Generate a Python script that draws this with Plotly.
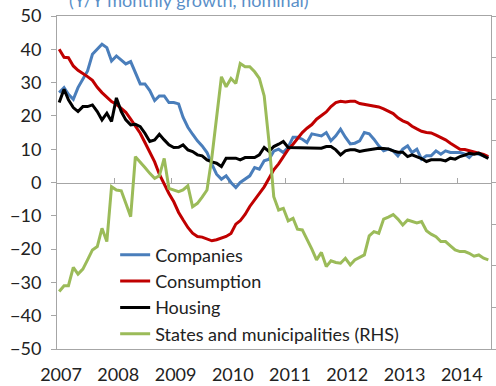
import pandas as pd
import plotly.graph_objects as go

# Monthly observations, Jan 2007 - Jul 2014 (plotted at mid-month)
months = pd.date_range("2007-01-01", "2014-07-01", freq="MS") + pd.Timedelta(days=14)

companies = [
    27, 28.5, 26.5, 25, 28.5, 31, 33.5, 38.5, 40, 41.5,
    40.5, 36.5, 38, 36.8, 35.6, 36.3, 33, 29.6, 29.6, 27.6,
    24.6, 26, 26, 24, 24, 23.6, 19.6, 16.6, 14.5, 12.5,
    11, 9, 5.5, 2.5, 1, 2, 0, -1.5, 0, 1,
    2, 4.5, 4, 6.5, 7, 9.4, 10, 9, 10.6, 13.6,
    13.6, 13, 12, 14.6, 14.3, 14, 15, 12.5, 14, 16,
    13.6, 11.6, 11.8, 12.5, 15, 14.6, 13, 11, 9.5, 10,
    9.5, 8, 10, 11, 9, 10, 7, 8, 8, 9.5,
    8.5, 9.5, 9, 9, 9, 8.5, 7.5, 9, 8.5, 8,
    7.5,
]

consumption = [
    40, 37.6, 37.5, 35, 33.7, 32.8, 31.8, 30.7, 28.6, 27,
    25.6, 24.3, 23.5, 22.3, 21.1, 19, 17, 14.8, 12, 9.1,
    6.2, 2.5, -0.5, -3.3, -5.8, -9, -11.2, -13.5, -15.2, -16.2,
    -16.4, -17, -17.5, -17.2, -16.7, -16.2, -15.3, -12.5, -11.5, -9.6,
    -7.2, -5.2, -3.5, -1.3, 1.3, 3.8, 5.6, 7.7, 9.9, 11.5,
    13.3, 15, 16.3, 17.4, 19, 20.2, 21.2, 22.8, 24, 24.4,
    24.2, 24.4, 24.4, 23.7, 23.5, 23.2, 23, 22.7, 22.1, 21.4,
    20.7, 19.4, 18.5, 17.9, 16.9, 16.1, 15.4, 15, 14.9, 14.2,
    13.5, 12.8, 11.8, 10.8, 10, 9.9, 9.5, 9, 8.8, 8.4,
    7.8,
]

housing = [
    24, 28, 24.8, 22.5, 21.3, 22.8, 22.8, 23.3, 21.3, 18.8,
    20.8, 18.3, 25.4, 21.3, 18.8, 17.3, 17.5, 16.8, 14.8, 12.3,
    12.8, 14.5, 12.8, 11.3, 10.5, 10.6, 11.3, 9.8, 9.3, 8.3,
    8, 6.8, 6.2, 5.8, 4.8, 7.3, 7.3, 7.3, 6.8, 7.5,
    7.5, 7.5, 8.3, 10.5, 9.3, 10.8, 11.5, 12.3, 10.5, 10.5,
    10.5, 10.5, 10.5, 10.5, 10.5, 10.3, 10.8, 10.8, 9.8, 8.3,
    9.5, 9.8, 9.8, 9.3, 9.6, 9.8, 10.1, 10.3, 10.2, 10.1,
    9.5, 9.1, 9.1, 7.8, 8.3, 7.8, 7.2, 6.3, 6.8, 6.8,
    6.8, 6.5, 7.3, 7, 7.8, 8.2, 8.8, 8.5, 8.8, 8,
    7.2,
]

# States and municipalities, right-hand scale
states = [
    -26.2, -24.8, -24.8, -20.4, -22.0, -20.8, -18.6, -16.2, -15.4, -11.0,
    -14.2, -1.0, -1.8, -2.0, -5.0, -8.2, 6.2, 5.0, 3.6, 2.2,
    1.0, 1.6, 5.8, -1.4, -1.8, -2.2, -1.8, -0.8, -5.8, -5.0,
    -3.5, -1.8, 6.0, 16.0, 25.4, 23.0, 25.0, 23.8, 28.6, 27.8,
    27.8, 26.6, 25.0, 20.8, 9.6, -3.4, -6.6, -6.2, -9.2, -8.6,
    -11.2, -11.4, -13.6, -16.0, -18.6, -16.8, -20.2, -18.8, -19.2, -19.4,
    -18.2, -19.8, -18.6, -18.0, -17.4, -12.8, -11.8, -12.2, -8.8, -8.3,
    -7.7, -8.8, -10.2, -9.0, -9.4, -9.7, -9.4, -11.6, -12.4, -13.0,
    -14.2, -14.2, -15.2, -16.2, -16.6, -16.6, -17.0, -17.7, -17.4, -18.2,
    -18.6,
]

year_ticks = pd.date_range("2007-01-01", "2014-01-01", freq="YS")
year_labels = [str(d.year) for d in year_ticks]
x_range = ["2007-01-01", "2014-08-01"]

FONT = "Lato"
GREY = "#a6a6a6"
TEXT = "#222222"

fig = go.Figure()

series = [
    ("Companies", companies, "#4a7ebb", "y"),
    ("Consumption", consumption, "#c00000", "y"),
    ("Housing", housing, "#000000", "y"),
    ("States and municipalities (RHS)", states, "#9bbb59", "y2"),
]
for name, values, color, axis in series:
    fig.add_trace(go.Scatter(
        x=months, y=values, name=name, mode="lines", yaxis=axis,
        line=dict(color=color, width=3),
    ))

# invisible helper so the zero-crossing date axis gets drawn
fig.add_trace(go.Scatter(
    x=[months[0], months[-1]], y=[0, 0], xaxis="x2", yaxis="y",
    mode="lines", line=dict(color="rgba(0,0,0,0)", width=0),
    showlegend=False, hoverinfo="skip",
))

fig.update_layout(
    width=496, height=386,
    margin=dict(l=57, r=5, t=16, b=37, autoexpand=False),
    paper_bgcolor="white", plot_bgcolor="white",
    font=dict(family=FONT, size=18, color=TEXT),
    showlegend=True,
    legend=dict(
        x=0.134, y=0.338, xanchor="left", yanchor="top",
        bgcolor="rgba(0,0,0,0)", borderwidth=0,
        font=dict(family=FONT, size=18, color=TEXT),
        tracegroupgap=0,
    ),
    xaxis=dict(
        type="date", range=x_range, automargin=False,
        tickvals=year_ticks, ticktext=year_labels,
        showline=True, linecolor=GREY, linewidth=1, mirror=True,
        ticks="", showgrid=False, zeroline=False,
        tickfont=dict(family=FONT, size=18, color=TEXT),
        ticklabelstandoff=9, ticklabelshift=4,
    ),
    xaxis2=dict(
        type="date", range=x_range, overlaying="x", anchor="free",
        position=0.5, side="bottom", automargin=False,
        tickvals=year_ticks, showticklabels=False,
        ticks="inside", ticklen=5, tickcolor=GREY, tickwidth=1,
        showline=True, linecolor=GREY, linewidth=1,
        showgrid=False, zeroline=False, layer="below traces",
    ),
    yaxis=dict(
        range=[-50, 50], dtick=10, tick0=0, automargin=False,
        showline=True, linecolor=GREY, linewidth=1,
        ticks="outside", ticklen=5, tickcolor=GREY,
        showgrid=False, zeroline=False,
        tickfont=dict(family=FONT, size=18, color=TEXT),
        ticklabelstandoff=6,
    ),
    yaxis2=dict(
        range=[-40, 40], dtick=10, tick0=0, automargin=False,
        overlaying="y", side="right",
        showline=True, linecolor=GREY, linewidth=1,
        ticks="outside", ticklen=5, tickcolor=GREY,
        showticklabels=False, showgrid=False, zeroline=False,
    ),
    annotations=[dict(
        text="(Y/Y monthly growth, nominal)",
        xref="paper", yref="paper", x=0.304, y=1.0,
        xanchor="center", yanchor="bottom", yshift=3, showarrow=False,
        font=dict(family=FONT, size=18, color="#5a8fc8"),
    )],
)

fig.write_html("out.html")
